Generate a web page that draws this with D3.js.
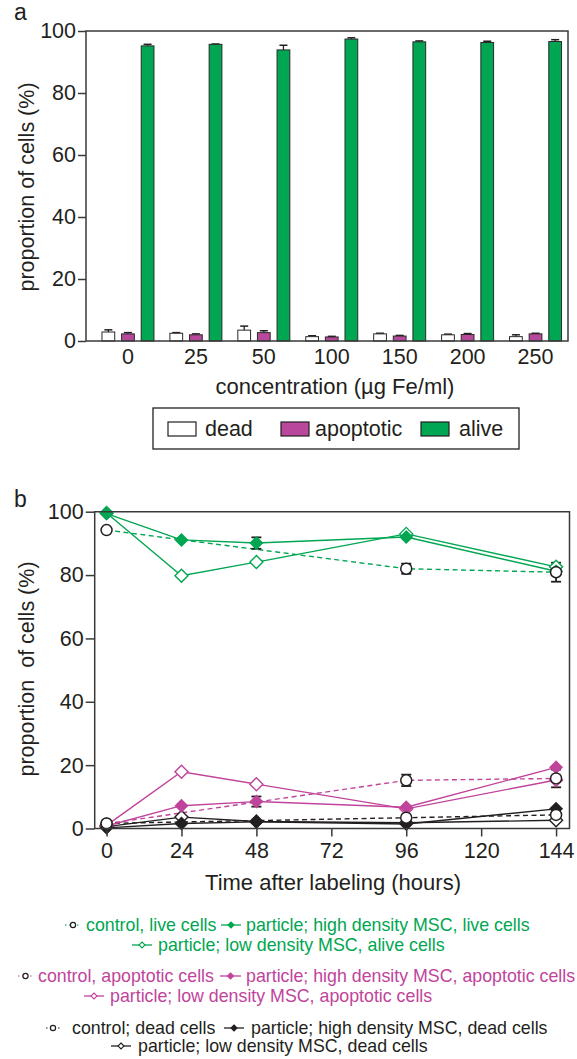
<!DOCTYPE html>
<html><head><meta charset="utf-8">
<script src="https://cdn.jsdelivr.net/npm/d3@7"></script>
<style>
body{margin:0;background:#fff;}
svg{display:block;font-family:"Liberation Sans",Arial,sans-serif;}
</style></head>
<body><svg id="c" width="577" height="1059"></svg>
<script>
// ---------- Panel a data ----------
const concentrations = ["0","25","50","100","150","200","250"];
const barGroups = ["dead","apoptotic","alive"];
const deadVals  = [2.9, 2.5, 3.5, 1.4, 2.3, 2.0, 1.4];
const deadErr   = [0.7, 0.2, 1.3, 0.3, 0.2, 0.2, 0.6];
const apopVals  = [2.3, 2.0, 2.7, 1.3, 1.6, 2.1, 2.3];
const apopErr   = [0.4, 0.3, 0.6, 0.2, 0.2, 0.3, 0.2];
const aliveVals = [95.2, 95.7, 93.9, 97.4, 96.5, 96.3, 96.6];
const aliveErr  = [0.5, 0.1, 1.5, 0.4, 0.3, 0.4, 0.6];
const yTicksA = [0,20,40,60,80,100];

// ---------- Panel b data ----------
const timesAll = [0,24,48,96,144];
const timesControl = [0,96,144];
const xTicksB = [0,24,48,72,96,120,144];
const yTicksB = [0,20,40,60,80,100];
const liveControl = [94.2, 82.0, 80.9];
const liveControlErr = [0, 1.6, 3.0];
const liveHigh = [99.4, 91.1, 90.1, 92.0, 81.2];
const liveHighErr = [0, 0, 1.8, 0, 0];
const liveLow  = [99.6, 79.8, 84.1, 93.0, 82.6];
const apopControl = [1.5, 15.2, 15.8];
const apopControlErr = [0, 1.8, 2.8];
const apopHigh = [0.8, 7.2, 8.5, 6.7, 19.3];
const apopHighErr = [0, 0, 1.6, 0, 0];
const apopLow  = [1.0, 17.9, 14.0, 6.2, 15.3];
const deadControl = [1.6, 3.4, 4.3];
const deadControlErr = [0, 0, 0.6];
const deadHigh = [0.2, 1.6, 2.1, 1.4, 6.2];
const deadLow  = [0.6, 3.6, 2.2, 1.8, 2.6];

const GREEN = "#00a651", MAG = "#c0449b", INK = "#231f20", FRAME = "#3a3a3a";
const svg = d3.select("#c");

// ================= Panel a =================
{
  const L=86, R=568, T=31, B=341;
  const g = svg.append("g");
  const x = d3.scaleBand().domain(concentrations).range([94,569.5]).paddingInner(0).paddingOuter(0);
  const y = d3.scaleLinear().domain([0,100]).range([B,T]);
  const xs = d3.scaleBand().domain(barGroups).range([-26,26]).paddingInner(0.35).paddingOuter(0);
  const fills = {dead:"#ffffff", apoptotic:"#b8489c", alive:GREEN};
  const vals = {dead:deadVals, apoptotic:apopVals, alive:aliveVals};
  const errs = {dead:deadErr, apoptotic:apopErr, alive:aliveErr};

  const rows = [];
  concentrations.forEach((c,i)=>barGroups.forEach(k=>rows.push({c,k,v:vals[k][i],e:errs[k][i]})));
  const cx = d => x(d.c)+x.bandwidth()/2 + xs(d.k);
  g.selectAll("line.eb").data(rows).join("line")
    .attr("x1",d=>cx(d)+xs.bandwidth()/2).attr("x2",d=>cx(d)+xs.bandwidth()/2)
    .attr("y1",d=>y(d.v)).attr("y2",d=>y(d.v+d.e)).attr("stroke",INK).attr("stroke-width",1.3);
  g.selectAll("line.cap").data(rows).join("line")
    .attr("x1",d=>cx(d)+xs.bandwidth()/2-4).attr("x2",d=>cx(d)+xs.bandwidth()/2+4)
    .attr("y1",d=>y(d.v+d.e)).attr("y2",d=>y(d.v+d.e)).attr("stroke",INK).attr("stroke-width",1.5);
  g.selectAll("rect.bar").data(rows).join("rect")
    .attr("x",cx).attr("width",xs.bandwidth())
    .attr("y",d=>y(d.v)).attr("height",d=>B-y(d.v))
    .attr("fill",d=>fills[d.k]).attr("stroke","#2a2a2a").attr("stroke-width",1);

  g.append("path").attr("d",`M${L},${T}H${R}V${B}H${L}Z`).attr("fill","none").attr("stroke",FRAME).attr("stroke-width",1.5);
  const ya = g.append("g").attr("transform",`translate(${L},0)`)
    .call(d3.axisLeft(y).tickValues(yTicksA).tickSize(8).tickPadding(2).tickSizeOuter(0));
  ya.select(".domain").remove();
  ya.selectAll("line").attr("stroke",FRAME).attr("stroke-width",1.5);
  ya.selectAll("text").attr("font-size",21.5).attr("fill",INK).attr("font-family","Liberation Sans, Arial");
  const xa = g.append("g").attr("transform",`translate(0,${B})`)
    .call(d3.axisBottom(x).tickSize(0).tickPadding(8));
  xa.select(".domain").remove();
  xa.selectAll("text").attr("font-size",21.5).attr("fill",INK).attr("font-family","Liberation Sans, Arial");

  g.append("text").attr("x",335).attr("y",394).attr("text-anchor","middle").attr("font-size",22).attr("fill",INK)
    .text("concentration (µg Fe/ml)");
  g.append("text").attr("transform","translate(34,187) rotate(-90)").attr("text-anchor","middle")
    .attr("font-size",21.5).attr("fill",INK).text("proportion of cells (%)");
  g.append("text").attr("x",14).attr("y",20).attr("font-size",23).attr("fill",INK).text("a");

  g.append("rect").attr("x",153).attr("y",408).attr("width",366).attr("height",41)
    .attr("fill","none").attr("stroke",INK).attr("stroke-width",1.3);
  const leg = [{k:"dead",rx:168,tx:205},{k:"apoptotic",rx:281,tx:315},{k:"alive",rx:421,tx:459}];
  leg.forEach(d=>{
    g.append("rect").attr("x",d.rx).attr("y",422).attr("width",28).attr("height",14)
      .attr("fill",fills[d.k]).attr("stroke",INK).attr("stroke-width",1.2);
    g.append("text").attr("x",d.tx).attr("y",436).attr("font-size",21.5).attr("fill",INK).text(d.k);
  });
}

// ================= Panel b =================
{
  const L=94.7, R=569.5, T=511.7, B=828.5;
  const g = svg.append("g");
  const x = d3.scaleLinear().domain([-3.8,148.3]).range([L,R]);
  const y = d3.scaleLinear().domain([0,100]).range([B,T]);
  const line = d3.line().x(d=>x(d.t)).y(d=>y(d.v));
  const zip = (ts,vs,es)=>ts.map((t,i)=>({t,v:vs[i],e:es?es[i]:0}));

  const series = [
    {pts:zip(timesControl,liveControl,liveControlErr), color:GREEN, dash:"5,3.5", marker:"circle"},
    {pts:zip(timesControl,apopControl,apopControlErr), color:MAG, dash:"5,3.5", marker:"circle"},
    {pts:zip(timesControl,deadControl,deadControlErr), color:INK, dash:"5,3.5", marker:"circle"},
    {pts:zip(timesAll,liveLow), color:GREEN, dash:null, marker:"open"},
    {pts:zip(timesAll,liveHigh,liveHighErr), color:GREEN, dash:null, marker:"filled"},
    {pts:zip(timesAll,apopLow), color:MAG, dash:null, marker:"open"},
    {pts:zip(timesAll,apopHigh,apopHighErr), color:MAG, dash:null, marker:"filled"},
    {pts:zip(timesAll,deadLow), color:INK, dash:null, marker:"open"},
    {pts:zip(timesAll,deadHigh), color:INK, dash:null, marker:"filled"},
  ];
  series.forEach(s=>{
    g.append("path").attr("d",line(s.pts)).attr("fill","none").attr("stroke",s.color)
      .attr("stroke-width",1.4).attr("stroke-dasharray",s.dash);
  });
  series.forEach(s=>{
    s.pts.filter(p=>p.e>0).forEach(p=>{
      const xx=x(p.t);
      g.append("line").attr("x1",xx).attr("x2",xx).attr("y1",y(p.v-p.e)).attr("y2",y(p.v+p.e)).attr("stroke",INK).attr("stroke-width",1.8);
      [p.v-p.e,p.v+p.e].forEach(v=>g.append("line").attr("x1",xx-5).attr("x2",xx+5).attr("y1",y(v)).attr("y2",y(v)).attr("stroke",INK).attr("stroke-width",1.8));
    });
  });
  const diamond = (cx,cy,r)=>`M${cx},${cy-r}L${cx+r},${cy}L${cx},${cy+r}L${cx-r},${cy}Z`;
  const order = ["open","filled","circle"];
  order.forEach(mk=>{
    series.filter(s=>s.marker===mk).forEach(s=>{
      s.pts.forEach(p=>{
        if(mk==="circle"){
          g.append("circle").attr("cx",x(p.t)).attr("cy",y(p.v)).attr("r",5.5).attr("fill","#fff").attr("stroke",INK).attr("stroke-width",1.5);
        } else {
          g.append("path").attr("d",diamond(x(p.t),y(p.v),mk==="filled"?6:6.5))
            .attr("fill",mk==="filled"?s.color:"#fff").attr("stroke",s.color).attr("stroke-width",1.4);
        }
      });
    });
  });

  g.append("path").attr("d",`M${L},${T}H${R}V${B}H${L}Z`).attr("fill","none").attr("stroke",FRAME).attr("stroke-width",1.5);
  const ya = g.append("g").attr("transform",`translate(${L},0)`)
    .call(d3.axisLeft(y).tickValues(yTicksB).tickSize(9).tickPadding(2).tickSizeOuter(0));
  ya.select(".domain").remove();
  ya.selectAll("line").attr("stroke",FRAME).attr("stroke-width",1.5);
  ya.selectAll("text").attr("font-size",21.5).attr("fill",INK).attr("font-family","Liberation Sans, Arial");
  const xa = g.append("g").attr("transform",`translate(0,${B})`)
    .call(d3.axisBottom(x).tickValues(xTicksB).tickSize(8).tickPadding(6).tickSizeOuter(0));
  xa.select(".domain").remove();
  xa.selectAll("line").attr("stroke",FRAME).attr("stroke-width",1.5);
  xa.selectAll("text").attr("font-size",21.5).attr("fill",INK).attr("font-family","Liberation Sans, Arial");

  g.append("text").attr("x",333).attr("y",890).attr("text-anchor","middle").attr("font-size",22).attr("fill",INK)
    .text("Time after labeling (hours)");
  g.append("text").attr("transform","translate(34,669) rotate(-90)").attr("text-anchor","middle")
    .attr("font-size",21.5).attr("fill",INK).style("white-space","pre").text("proportion  of cells (%)");
  g.append("text").attr("x",14).attr("y",507).attr("font-size",23).attr("fill",INK).text("b");

  const legendItems = [
    {y:931, mx:65, mw:16, type:"circle", color:GREEN, tx:86, label:"control, live cells"},
    {y:931, mx:221, mw:20, type:"filled", color:GREEN, tx:246, label:"particle; high density MSC, live cells"},
    {y:951, mx:132, mw:20, type:"open", color:GREEN, tx:158, label:"particle; low density MSC, alive cells"},
    {y:982, mx:18, mw:15, type:"circle", color:MAG, tx:38, label:"control, apoptotic cells"},
    {y:982, mx:220, mw:21, type:"filled", color:MAG, tx:246, label:"particle; high density MSC, apoptotic cells"},
    {y:1002, mx:84, mw:20, type:"open", color:MAG, tx:110, label:"particle; low density MSC, apoptotic cells"},
    {y:1034, mx:46, mw:14, type:"circle", color:INK, tx:72, label:"control; dead cells"},
    {y:1034, mx:224, mw:20, type:"filled", color:INK, tx:251, label:"particle; high density MSC, dead cells"},
    {y:1052, mx:111, mw:20, type:"open", color:INK, tx:138, label:"particle; low density MSC, dead cells"},
  ];
  legendItems.forEach(d=>{
    const cy = d.y-6, cxm = d.mx+d.mw/2;
    if(d.type==="circle"){
      g.append("line").attr("x1",d.mx).attr("x2",d.mx+d.mw).attr("y1",cy).attr("y2",cy)
        .attr("stroke",d.color).attr("stroke-width",1).attr("stroke-dasharray","1.5,2.5");
      g.append("circle").attr("cx",cxm).attr("cy",cy).attr("r",2.6).attr("fill","#fff").attr("stroke",INK).attr("stroke-width",1.2);
    } else {
      g.append("line").attr("x1",d.mx).attr("x2",d.mx+d.mw).attr("y1",cy).attr("y2",cy)
        .attr("stroke",d.color).attr("stroke-width",1.3);
      g.append("path").attr("d",diamond(cxm,cy,3)).attr("fill",d.type==="filled"?d.color:"#fff")
        .attr("stroke",d.color).attr("stroke-width",1.1);
    }
    g.append("text").attr("x",d.tx).attr("y",d.y).attr("font-size",17.8).attr("fill",d.color).text(d.label);
  });
}
</script></body></html>
